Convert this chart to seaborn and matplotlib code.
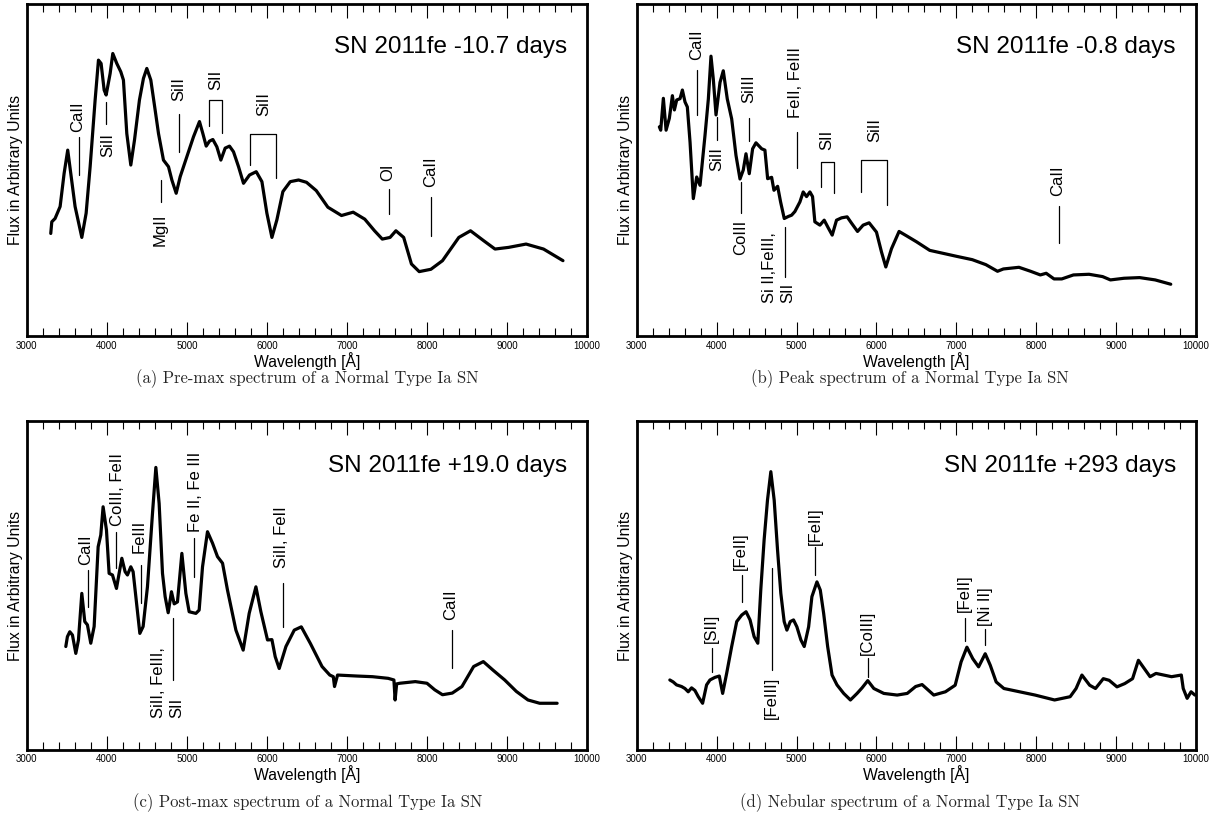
import matplotlib
matplotlib.use("Agg")
import matplotlib.pyplot as plt
import seaborn as sns
import pandas as pd
from matplotlib.ticker import MultipleLocator

# ---------------- data (wavelength in Angstrom, flux in arbitrary units) ----------------
wave_a = [3300, 3313, 3354, 3417, 3467, 3512, 3550, 3604, 3688, 3742, 3792, 3854, 3896, 3929,
          3967, 3992, 4042, 4075, 4125, 4175, 4208, 4250, 4300, 4346, 4408, 4458, 4500, 4550,
          4604, 4646, 4708, 4771, 4813, 4867, 4917, 5000, 5083, 5158, 5200, 5242, 5283, 5325,
          5375, 5425, 5479, 5533, 5583, 5646, 5708, 5783, 5867, 5938, 6000, 6063, 6125, 6200,
          6292, 6396, 6495, 6617, 6762, 6932, 7078, 7223, 7345, 7442, 7539, 7612, 7709, 7806,
          7903, 8049, 8194, 8398, 8544, 8709, 8850, 9020, 9238, 9456, 9699]
flux_a = [30.9, 34.4, 35.4, 39.0, 49.0, 56.0, 49.0, 39.0, 29.7, 37.0, 51.0, 71.0, 83.1, 82.1,
          74.1, 72.6, 79.1, 85.1, 82.1, 79.6, 77.1, 61.0, 51.5, 59.0, 71.1, 77.6, 80.6, 77.1,
          68.1, 61.0, 53.0, 51.0, 47.0, 43.0, 48.0, 54.0, 60.0, 64.6, 61.0, 57.2, 58.7, 59.2,
          57.0, 53.0, 56.6, 57.2, 55.5, 51.0, 46.0, 48.5, 49.5, 46.5, 37.0, 29.7, 35.0, 43.5,
          46.5, 47.0, 46.3, 43.8, 38.8, 36.3, 37.3, 35.2, 31.7, 29.2, 29.7, 31.7, 29.7, 21.7,
          19.4, 20.1, 22.7, 29.7, 31.7, 28.7, 26.2, 26.7, 27.7, 26.2, 22.7]

wave_b = [3283, 3300, 3333, 3367, 3408, 3446, 3471, 3500, 3542, 3571, 3604, 3633, 3667, 3708,
          3750, 3792, 3854, 3896, 3929, 3958, 3992, 4042, 4083, 4133, 4188, 4242, 4292, 4333,
          4367, 4408, 4450, 4492, 4563, 4604, 4638, 4688, 4717, 4763, 4800, 4846, 4896, 4938,
          4979, 5042, 5083, 5125, 5167, 5200, 5229, 5292, 5346, 5396, 5446, 5500, 5563, 5633,
          5688, 5763, 5833, 5908, 6000, 6063, 6117, 6188, 6283, 6375, 6500, 6667, 7004, 7199,
          7369, 7515, 7588, 7783, 7929, 8051, 8124, 8222, 8319, 8465, 8660, 8830, 8928, 9098,
          9293, 9488, 9683]
flux_b = [63.0, 62.0, 71.6, 62.0, 65.6, 72.4, 68.1, 71.1, 71.5, 74.1, 70.5, 69.0, 58.4, 41.4,
          47.9, 45.4, 60.4, 71.4, 84.3, 77.4, 66.6, 76.4, 79.9, 71.4, 65.4, 54.4, 47.3, 50.0,
          54.9, 48.9, 56.4, 58.2, 56.4, 56.0, 47.4, 47.8, 43.9, 45.1, 40.4, 35.4, 36.0, 36.4,
          37.5, 40.4, 43.4, 42.0, 43.4, 42.0, 34.4, 33.4, 34.9, 32.6, 30.4, 34.9, 35.6, 35.9,
          34.0, 31.5, 33.4, 34.1, 31.3, 25.3, 20.8, 26.3, 31.5, 30.2, 28.4, 25.8, 24.0, 23.0,
          21.5, 19.5, 20.2, 20.7, 19.5, 18.4, 18.9, 17.2, 17.2, 18.4, 18.6, 17.9, 16.9, 17.4,
          17.6, 16.9, 15.6]

wave_c = [3488, 3508, 3538, 3571, 3613, 3646, 3688, 3725, 3758, 3800, 3842, 3892, 3925, 3954,
          3996, 4029, 4071, 4121, 4154, 4188, 4229, 4258, 4300, 4329, 4363, 4413, 4454, 4508,
          4571, 4613, 4654, 4696, 4729, 4767, 4808, 4842, 4883, 4938, 4988, 5029, 5113, 5154,
          5196, 5258, 5321, 5383, 5446, 5508, 5613, 5704, 5779, 5863, 5925, 6008, 6063, 6104,
          6154, 6238, 6342, 6430, 6544, 6689, 6786, 6830, 6845, 6883, 7126, 7320, 7515, 7587,
          7602, 7621, 7660, 7854, 8000, 8097, 8194, 8316, 8437, 8583, 8704, 8825, 8971, 9117,
          9262, 9408, 9626]
flux_c = [31.4, 34.4, 35.9, 34.9, 29.3, 33.4, 47.6, 39.0, 38.0, 32.4, 37.5, 61.8, 65.4, 74.0,
          66.9, 53.7, 53.2, 49.1, 53.7, 58.3, 54.2, 53.2, 55.7, 54.2, 46.6, 35.4, 37.5, 49.6,
          72.0, 86.0, 75.0, 53.7, 46.6, 41.7, 48.1, 44.4, 45.0, 59.8, 47.6, 42.0, 41.5, 42.5,
          55.7, 66.4, 62.9, 58.8, 56.8, 48.6, 36.4, 30.3, 41.5, 49.6, 42.0, 33.4, 33.5, 28.3,
          24.7, 31.4, 36.4, 37.4, 32.3, 25.3, 22.7, 22.2, 19.2, 22.7, 22.4, 22.2, 21.7, 21.2,
          15.1, 20.0, 20.2, 20.7, 20.2, 18.2, 16.7, 17.2, 19.2, 25.3, 26.8, 24.2, 21.2, 17.7,
          15.1, 14.1, 14.1]

wave_d = [3414, 3456, 3498, 3561, 3603, 3644, 3686, 3728, 3770, 3824, 3874, 3916, 3979, 4033,
          4075, 4125, 4188, 4251, 4314, 4368, 4418, 4469, 4515, 4552, 4594, 4636, 4678, 4720,
          4762, 4803, 4845, 4879, 4921, 4962, 5004, 5054, 5096, 5151, 5192, 5255, 5297, 5339,
          5389, 5444, 5506, 5590, 5674, 5757, 5820, 5891, 5967, 6092, 6259, 6385, 6490, 6571,
          6717, 6863, 6985, 7059, 7132, 7205, 7278, 7361, 7424, 7498, 7595, 7790, 7985, 8229,
          8424, 8498, 8571, 8668, 8741, 8839, 8912, 9010, 9107, 9205, 9278, 9351, 9424, 9498,
          9595, 9693, 9815, 9839, 9888, 9937, 9985]
flux_d = [21.2, 20.6, 19.7, 19.2, 18.6, 17.6, 18.8, 18.0, 16.1, 14.1, 19.7, 21.2, 22.0, 22.4,
          17.1, 23.2, 31.4, 39.0, 41.0, 42.0, 39.5, 34.4, 32.4, 48.6, 63.9, 76.0, 84.7, 76.0,
          60.8, 47.6, 39.0, 36.4, 39.0, 39.5, 37.4, 33.4, 31.4, 37.4, 46.6, 51.1, 48.6, 41.5,
          31.4, 22.7, 19.7, 17.1, 15.1, 17.1, 18.8, 21.0, 18.6, 17.1, 16.6, 17.1, 19.2, 19.8,
          16.6, 17.6, 19.6, 26.7, 31.2, 27.7, 25.2, 29.2, 25.7, 20.6, 18.6, 17.6, 16.6, 15.1,
          16.1, 18.6, 22.7, 19.6, 18.6, 21.6, 21.1, 19.1, 20.1, 21.6, 27.2, 24.7, 22.2, 23.2,
          22.7, 22.2, 22.7, 18.6, 15.6, 17.6, 16.6]

titles = ["SN 2011fe -10.7 days", "SN 2011fe -0.8 days", "SN 2011fe +19.0 days", "SN 2011fe +293 days"]
captions = ["(a) Pre-max spectrum of a Normal Type Ia SN", "(b) Peak spectrum of a Normal Type Ia SN",
            "(c) Post-max spectrum of a Normal Type Ia SN", "(d) Nebular spectrum of a Normal Type Ia SN"]

# line identifications: (wavelength, flux_low, flux_high)
marks_a = [(3654, 48.5, 60.0), (3995, 63.9, 70.6), (4679, 40.5, 47.0), (4904, 55.5, 67.0),
           (7524, 36.8, 44.3), (8049, 30.2, 41.8)]
# labels: (wavelength, flux, text, vertical anchor)
labels_a = [(3630, 61.5, "CaII", "bottom"), (4010, 61.2, "SiII", "top"), (4667, 36.9, "MgII", "top"),
            (4896, 70.9, "SiII", "bottom"), (5367, 74.1, "SII", "bottom"), (5958, 66.3, "SiII", "bottom"),
            (7510, 46.8, "OI", "bottom"), (8049, 44.8, "CaII", "bottom")]
# brackets: (wave_left, wave_right, flux_top, flux_left_end, flux_right_end)
brackets_a = [(5279, 5438, 71.1, 63.3, 61.2), (5783, 6117, 60.8, 51.5, 47.5)]

marks_b = [(3758, 66.6, 80.1), (4000, 59.0, 66.0), (4408, 58.7, 65.7), (4300, 37.0, 46.5),
           (4854, 17.9, 32.9), (5000, 50.5, 61.5), (8280, 28.0, 39.1)]
labels_b = [(3745, 83.0, "CaII", "bottom"), (4000, 57.0, "SiII", "top"), (4400, 70.1, "SiIII", "bottom"),
            (4300, 35.0, "CoIII", "top"), (4775, 9.8, "Si II,FeIII,\nSII", "bottom"),
            (4985, 65.6, "FeII, FeIII", "bottom"), (5383, 56.0, "SII", "bottom"),
            (5975, 58.5, "SiII", "bottom"), (8270, 42.1, "CaII", "bottom")]
brackets_b = [(5300, 5466, 52.5, 45.0, 43.2), (5804, 6138, 52.9, 43.4, 39.4)]

marks_c = [(3767, 43.5, 54.7), (4121, 55.2, 66.4), (4425, 44.6, 56.3), (4829, 21.2, 40.0),
           (5092, 52.7, 64.4), (6196, 37.4, 50.7), (8316, 24.8, 36.4)]
labels_c = [(3735, 56.3, "CaII", "bottom"), (4135, 68.0, "CoIII, FeII", "bottom"),
            (4410, 59.8, "FeIII", "bottom"), (4760, 9.5, "SiII, FeIII,\nSII", "bottom"),
            (5105, 66.4, "Fe II, Fe III", "bottom"), (6180, 55.2, "SiII, FeII", "bottom"),
            (8300, 39.4, "CaII", "bottom")]
brackets_c = []

marks_d = [(3937, 23.7, 30.8), (4314, 45.1, 53.2), (4690, 24.2, 55.2), (5234, 53.2, 61.8),
           (5895, 22.2, 27.8), (7107, 33.0, 40.0), (7361, 31.8, 36.8)]
labels_d = [(3937, 32.4, "[SII]", "bottom"), (4300, 54.7, "[FeII]", "bottom"),
            (4690, 22.2, "[FeIII]", "top"), (5234, 62.4, "[FeII]", "bottom"),
            (5880, 28.8, "[CoIII]", "bottom"), (7100, 41.8, "[FeII]", "bottom"),
            (7370, 37.8, "[Ni II]", "bottom")]
brackets_d = []

# ---------------- figure ----------------
sns.set_theme(style="white")
plt.rcParams["font.family"] = ["Liberation Sans", "DejaVu Sans"]

fig = plt.figure(figsize=(12.21, 8.25), dpi=100)
positions = [[0.0219, 0.5927, 0.4589, 0.4024], [0.5215, 0.5927, 0.4581, 0.4024],
             [0.0219, 0.0915, 0.4589, 0.3976], [0.5215, 0.0915, 0.4581, 0.3976]]
spectra = [(wave_a, flux_a), (wave_b, flux_b), (wave_c, flux_c), (wave_d, flux_d)]
marks = [marks_a, marks_b, marks_c, marks_d]
labels = [labels_a, labels_b, labels_c, labels_d]
brackets = [brackets_a, brackets_b, brackets_c, brackets_d]
title_y = [0.852, 0.852, 0.845, 0.845]
caption_xy = [(0.252, 0.541), (0.745, 0.541), (0.252, 0.027), (0.745, 0.027)]

for i in range(4):
    ax = fig.add_axes(positions[i])
    df = pd.DataFrame({"wave": spectra[i][0], "flux": spectra[i][1]})
    sns.lineplot(data=df, x="wave", y="flux", ax=ax, color="black", lw=2.3,
                 sort=False, estimator=None)
    for (w, f0, f1) in marks[i]:
        ax.plot([w, w], [f0, f1], color="black", lw=0.9)
    for (wl, wr, ft, fl, fr) in brackets[i]:
        ax.plot([wl, wl, wr, wr], [fl, ft, ft, fr], color="black", lw=0.9)
    for (w, f, txt, va) in labels[i]:
        ax.text(w, f, txt, rotation=90, ha="center", va=va, fontsize=12,
                multialignment="left", color="black")
    ax.text(0.964, title_y[i], titles[i], transform=ax.transAxes, ha="right",
            va="baseline", fontsize=17.5, color="black")
    ax.set_xlim(3000, 10000)
    ax.set_ylim(0, 100)
    ax.set_yticks([])
    ax.xaxis.set_major_locator(MultipleLocator(1000))
    ax.xaxis.set_minor_locator(MultipleLocator(200))
    ax.tick_params(axis="x", which="both", direction="in", top=True, bottom=True,
                   colors="black", labelsize=7, pad=3.5)
    ax.tick_params(axis="x", which="major", length=10, width=0.8)
    ax.tick_params(axis="x", which="minor", length=5.5, width=0.8)
    for sp in ax.spines.values():
        sp.set_linewidth(2.0)
        sp.set_color("black")
    ax.set_xlabel("Wavelength [Å]", fontsize=11.3, color="black", labelpad=0.5)
    ax.set_ylabel("Flux in Arbitrary Units", fontsize=11.3, color="black")
    ax.yaxis.set_label_coords(-0.007, 0.5)
    cx, cy = caption_xy[i]
    fig.text(cx, cy, captions[i], ha="center", va="center", fontsize=12, family="cmr10")

fig.savefig("out.png", dpi=100)
